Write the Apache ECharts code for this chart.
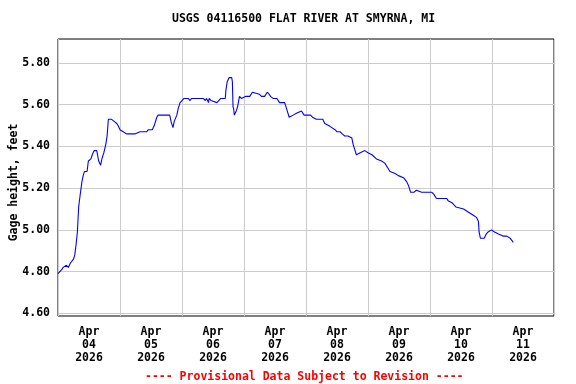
<!DOCTYPE html>
<html>
<head>
<meta charset="utf-8">
<script src="https://cdn.jsdelivr.net/npm/echarts@6/dist/echarts.min.js"></script>
<style>html,body{margin:0;padding:0;background:#fff;}#c{width:576px;height:384px;}</style>
</head>
<body>
<div id="c"></div>
<script>
const titleText = "USGS 04116500 FLAT RIVER AT SMYRNA, MI";
const footerText = "---- Provisional Data Subject to Revision ----";
const yAxisName = "Gage height, feet";
const startTime = "2026-04-04T00:00";
const endTime = "2026-04-12T00:00";
const yTicks = [4.6, 4.8, 5.0, 5.2, 5.4, 5.6, 5.8];
const dayLabelHours = [12, 36, 60, 84, 108, 132, 156, 180];
const monthNames = ["Jan","Feb","Mar","Apr","May","Jun","Jul","Aug","Sep","Oct","Nov","Dec"];

const times = [
"2026-04-04T00:00","2026-04-04T01:30","2026-04-04T02:00","2026-04-04T03:15","2026-04-04T04:00","2026-04-04T04:45",
"2026-04-04T06:00","2026-04-04T06:30","2026-04-04T07:00","2026-04-04T07:30","2026-04-04T08:00","2026-04-04T08:30",
"2026-04-04T09:15","2026-04-04T09:45","2026-04-04T10:15","2026-04-04T11:15","2026-04-04T11:45","2026-04-04T12:45",
"2026-04-04T13:15","2026-04-04T14:00","2026-04-04T15:00","2026-04-04T15:45","2026-04-04T16:30","2026-04-04T17:00",
"2026-04-04T17:45","2026-04-04T18:30","2026-04-04T19:00","2026-04-04T19:30","2026-04-04T20:45","2026-04-04T21:45",
"2026-04-04T22:45","2026-04-04T23:15","2026-04-05T00:00","2026-04-05T01:15","2026-04-05T02:30","2026-04-05T04:45",
"2026-04-05T05:45","2026-04-05T07:45","2026-04-05T10:15","2026-04-05T11:00","2026-04-05T12:30","2026-04-05T13:15",
"2026-04-05T14:15","2026-04-05T14:45","2026-04-05T19:15","2026-04-05T19:45","2026-04-05T20:30","2026-04-05T21:00",
"2026-04-05T22:00","2026-04-05T22:30","2026-04-05T23:15","2026-04-06T00:00","2026-04-06T00:45","2026-04-06T02:30",
"2026-04-06T03:00","2026-04-06T03:45","2026-04-06T08:15","2026-04-06T09:00","2026-04-06T09:30","2026-04-06T10:15",
"2026-04-06T10:30","2026-04-06T11:15","2026-04-06T13:30","2026-04-06T15:00","2026-04-06T16:45","2026-04-06T17:00",
"2026-04-06T17:30","2026-04-06T18:15","2026-04-06T19:15","2026-04-06T19:30","2026-04-06T19:45","2026-04-06T20:00",
"2026-04-06T20:15","2026-04-06T21:00","2026-04-06T21:30","2026-04-06T22:15","2026-04-06T23:00","2026-04-06T23:45",
"2026-04-07T00:45","2026-04-07T02:15","2026-04-07T03:15","2026-04-07T06:00","2026-04-07T06:45","2026-04-07T08:00",
"2026-04-07T09:00","2026-04-07T09:45","2026-04-07T10:15","2026-04-07T11:15","2026-04-07T12:45","2026-04-07T13:45",
"2026-04-07T15:45","2026-04-07T16:30","2026-04-07T17:00","2026-04-07T17:30","2026-04-07T19:00","2026-04-07T20:30",
"2026-04-07T22:15","2026-04-07T23:15","2026-04-08T01:45","2026-04-08T02:30","2026-04-08T04:00","2026-04-08T06:30",
"2026-04-08T07:15","2026-04-08T08:45","2026-04-08T10:00","2026-04-08T11:15","2026-04-08T12:00","2026-04-08T13:15",
"2026-04-08T14:00","2026-04-08T15:00","2026-04-08T16:15","2026-04-08T17:45","2026-04-08T18:15","2026-04-08T19:00",
"2026-04-08T19:30","2026-04-08T21:00","2026-04-08T22:45","2026-04-09T00:00","2026-04-09T01:30","2026-04-09T03:15",
"2026-04-09T05:15","2026-04-09T06:30","2026-04-09T07:30","2026-04-09T08:30","2026-04-09T10:30","2026-04-09T11:45",
"2026-04-09T13:45","2026-04-09T15:00","2026-04-09T15:45","2026-04-09T16:30","2026-04-09T17:45","2026-04-09T18:45",
"2026-04-09T20:45","2026-04-09T22:45","2026-04-10T00:45","2026-04-10T01:30","2026-04-10T02:00","2026-04-10T02:30",
"2026-04-10T06:30","2026-04-10T07:00","2026-04-10T08:30","2026-04-10T10:00","2026-04-10T13:00","2026-04-10T15:30",
"2026-04-10T16:45","2026-04-10T18:00","2026-04-10T18:45","2026-04-10T19:00","2026-04-10T19:30","2026-04-10T21:00",
"2026-04-10T21:45","2026-04-10T22:30","2026-04-10T23:45","2026-04-11T01:00","2026-04-11T02:30","2026-04-11T04:15",
"2026-04-11T05:45","2026-04-11T07:00","2026-04-11T08:15"
];
const stage = [
4.79,4.81,4.82,4.83,4.82,4.84,
4.86,4.88,4.93,4.99,5.11,5.16,
5.23,5.26,5.28,5.28,5.33,5.34,
5.36,5.38,5.38,5.33,5.31,5.34,
5.37,5.41,5.45,5.53,5.53,5.52,
5.51,5.50,5.48,5.47,5.46,5.46,
5.46,5.47,5.47,5.48,5.48,5.50,
5.54,5.55,5.55,5.52,5.49,5.52,
5.55,5.58,5.61,5.62,5.63,5.63,
5.62,5.63,5.63,5.62,5.63,5.61,
5.63,5.62,5.61,5.63,5.63,5.67,
5.71,5.73,5.73,5.71,5.59,5.58,
5.55,5.57,5.59,5.64,5.63,5.63,
5.64,5.64,5.66,5.65,5.64,5.64,
5.66,5.65,5.64,5.63,5.63,5.61,
5.61,5.58,5.56,5.54,5.55,5.56,
5.57,5.55,5.55,5.54,5.53,5.53,
5.51,5.50,5.49,5.48,5.47,5.47,
5.46,5.45,5.45,5.44,5.41,5.38,
5.36,5.37,5.38,5.37,5.36,5.34,
5.33,5.32,5.30,5.28,5.27,5.26,
5.25,5.23,5.21,5.18,5.18,5.19,
5.18,5.18,5.18,5.17,5.17,5.15,
5.15,5.14,5.13,5.11,5.10,5.08,
5.07,5.06,5.04,4.99,4.96,4.96,
4.98,4.99,5.00,4.99,4.98,4.97,
4.97,4.96,4.94
];

const t0 = Date.parse(startTime);
const spanHours = (Date.parse(endTime) - t0) / 3600000;
const seriesData = times.map((t, i) => [(Date.parse(t) - t0) / 3600000, stage[i]]);

const FONT = "DejaVu Sans Mono";
const chart = echarts.init(document.getElementById('c'), null, {renderer: 'canvas'});
chart.setOption({
  animation: false,
  backgroundColor: '#fff',
  title: [
    {text: titleText, left: 172, top: 13, padding: 0,
     textStyle: {fontFamily: FONT, fontWeight: 'bold', fontSize: 11.5, color: '#000'}},
    {text: footerText, left: 145, top: 371, padding: 0,
     textStyle: {fontFamily: FONT, fontWeight: 'bold', fontSize: 11.5, color: '#ff0000'}}
  ],
  grid: {left: 58, right: 22, top: 39, bottom: 68, containLabel: false, outerBoundsMode: 'none',
         show: true, borderColor: '#000', borderWidth: 1, backgroundColor: 'transparent'},
  xAxis: {
    type: 'value', min: 0, max: spanHours, interval: 24,
    axisLine: {show: false},
    axisTick: {show: false},
    splitLine: {show: true, lineStyle: {color: '#cccccc', width: 1}},
    axisLabel: {
      customValues: dayLabelHours, margin: 10, lineHeight: 13,
      fontFamily: FONT, fontWeight: 'bold', fontSize: 11.5, color: '#000',
      formatter: function (v) {
        const d = new Date(t0 + v * 3600000);
        const dd = String(d.getDate()).padStart(2, '0');
        return monthNames[d.getMonth()] + '\n' + dd + '\n' + d.getFullYear();
      }
    }
  },
  yAxis: {
    type: 'value', min: 4.587, max: 5.915,
    name: yAxisName, nameLocation: 'middle', nameGap: 38, nameMoveOverlap: false,
    nameTextStyle: {fontFamily: FONT, fontWeight: 'bold', fontSize: 11.5, color: '#000', padding: [0, 10, 0, 0]},
    axisLine: {show: false},
    axisTick: {show: false, customValues: yTicks},
    splitLine: {show: true, lineStyle: {color: '#cccccc', width: 1}},
    axisLabel: {
      customValues: yTicks, margin: 8,
      fontFamily: FONT, fontWeight: 'bold', fontSize: 11.5, color: '#000',
      formatter: v => v.toFixed(2)
    }
  },
  series: [{
    type: 'line', data: seriesData, showSymbol: false, symbol: 'none',
    lineStyle: {color: '#0000ff', width: 1.1}, z: 5
  }]
});
</script>
</body>
</html>
